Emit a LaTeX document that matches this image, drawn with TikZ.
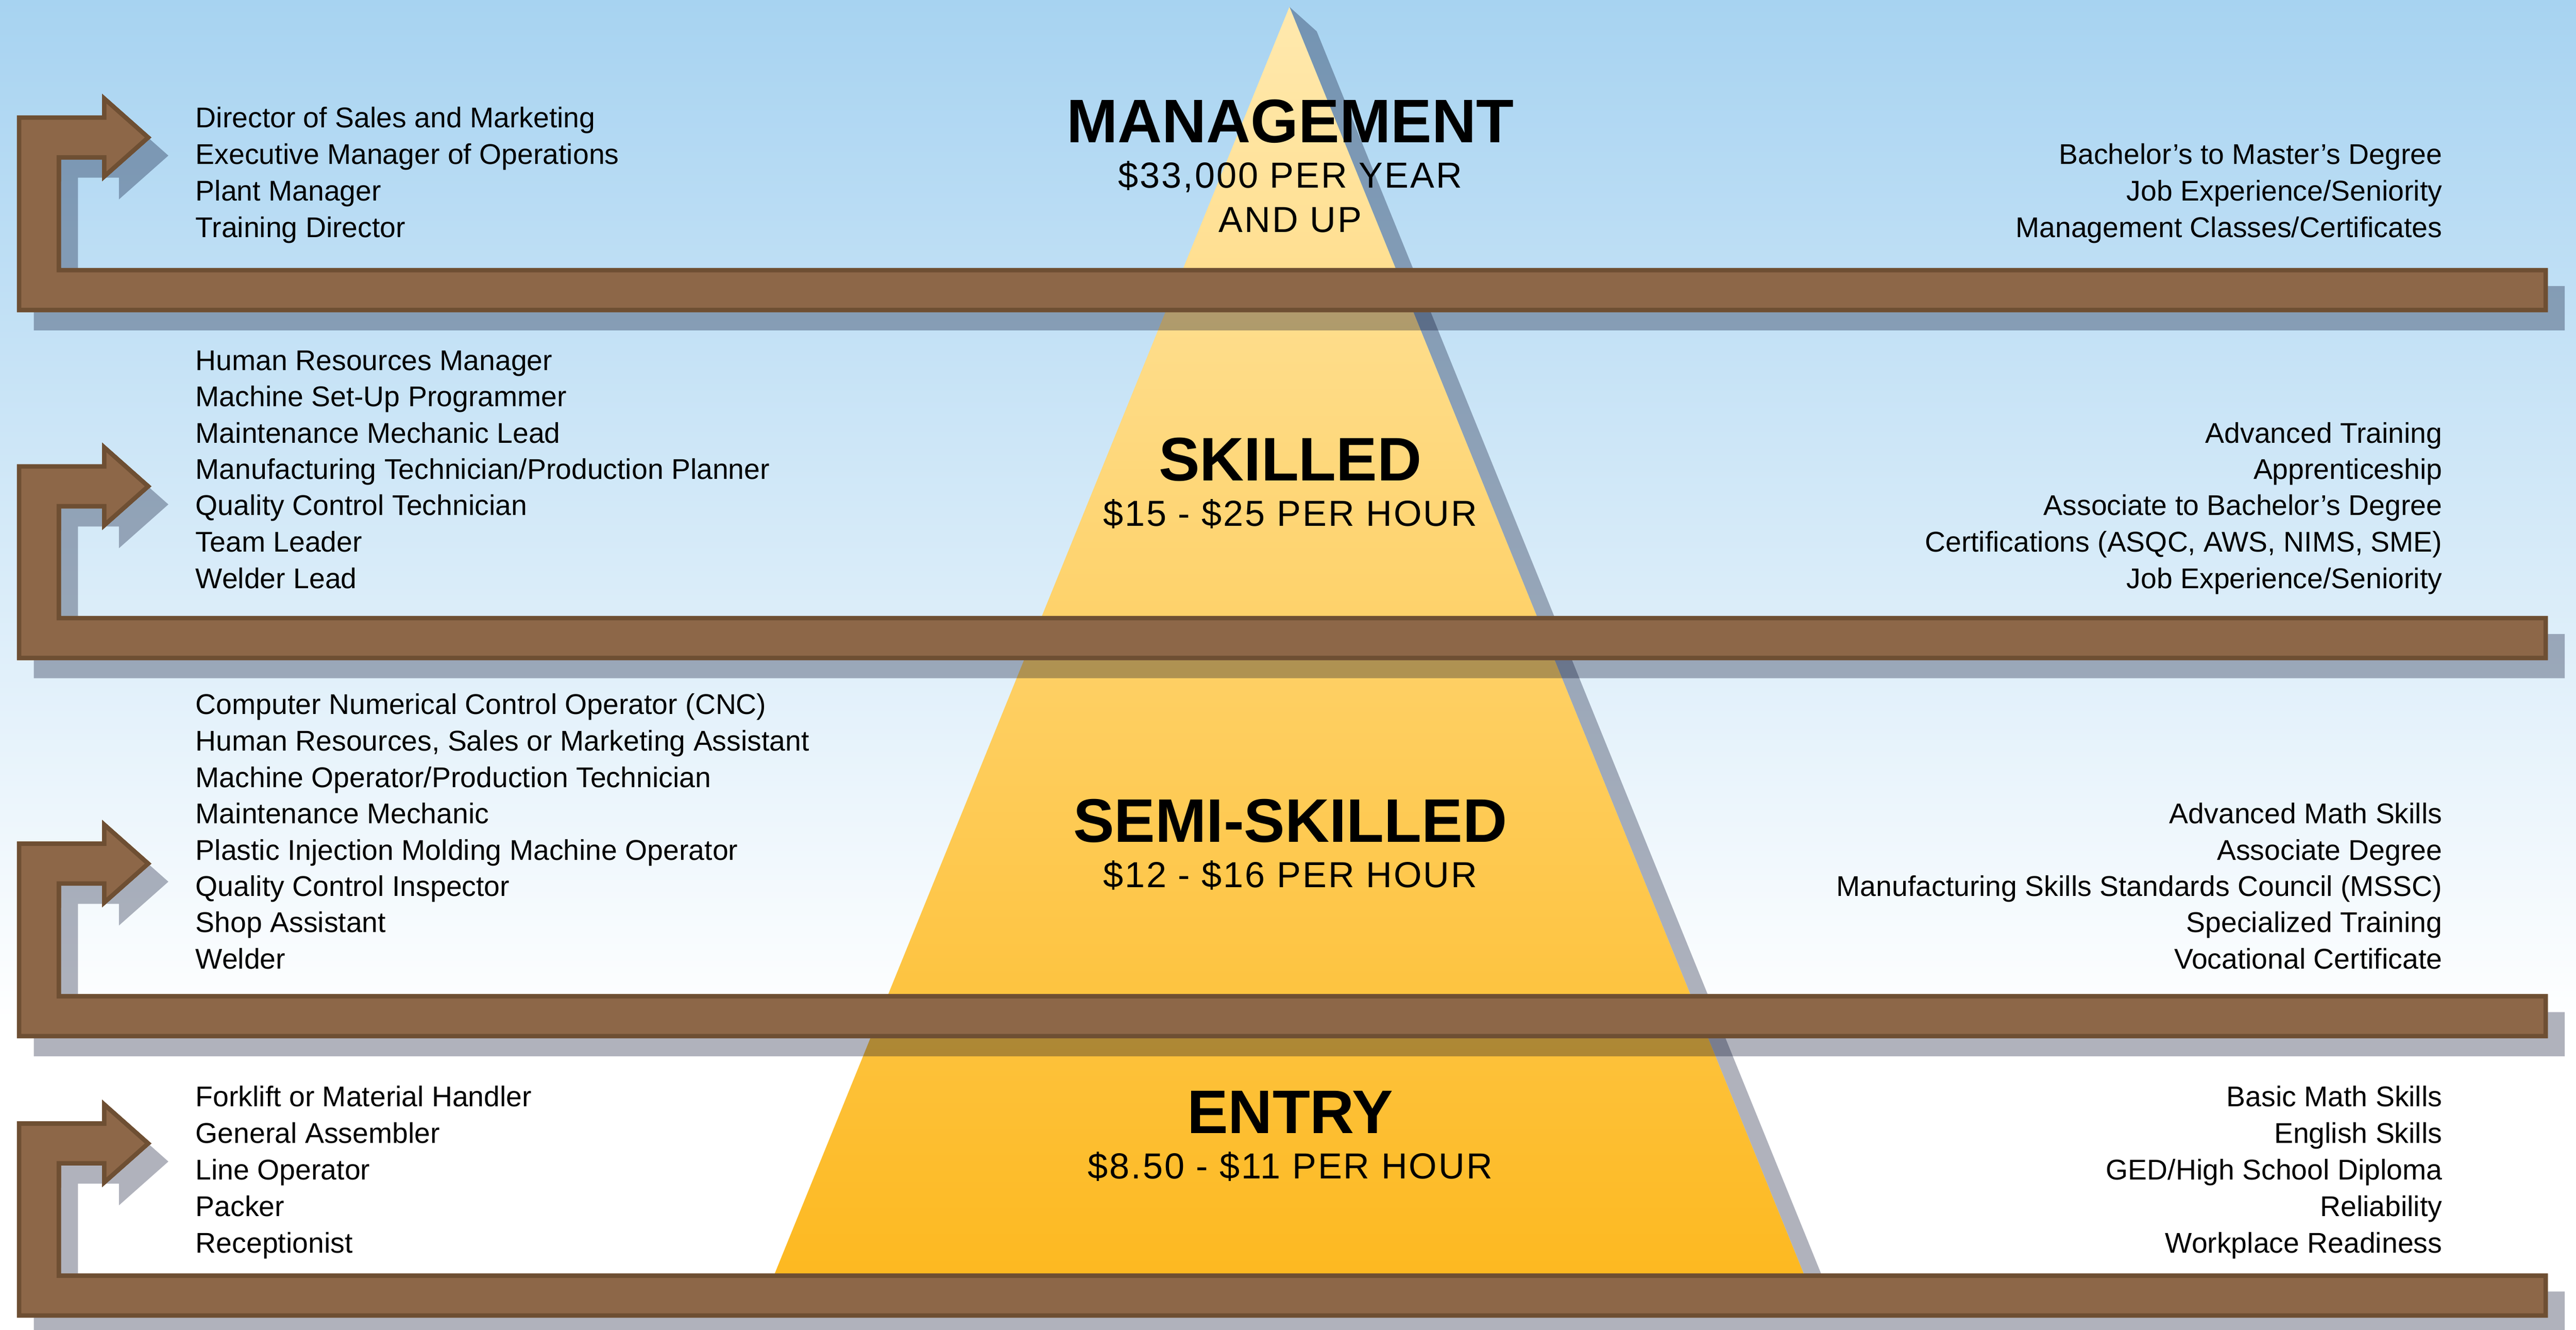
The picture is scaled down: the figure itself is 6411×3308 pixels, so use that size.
\documentclass[tikz,border=0pt]{standalone}
\usepackage{fontspec}
\setmainfont{Liberation Sans}
\newfontfamily\wagefont[LetterSpace=4.3]{Liberation Sans}
\definecolor{bgtop}{RGB}{167,211,241}
\definecolor{pyrtop}{RGB}{255,233,174}
\definecolor{pyrbot}{RGB}{253,185,33}
\definecolor{shadowcol}{RGB}{0,8,41}
\definecolor{arrowfillc}{RGB}{141,103,72}
\definecolor{arrowlinec}{RGB}{110,79,51}
\newcommand\arrowpath[2]{(42,{#1-55}) -- (254,{#1-55}) -- (254,{#1-109}) -- (377,#1) -- (254,{#1+109}) -- (254,{#1+55}) -- (152,{#1+55}) -- (152,#2) -- (6341,#2) -- (6341,{#2+110}) -- (42,{#2+110}) -- cycle}
\newcommand\stairarrow[3]{%
  \fill[shadowfill, shift={(42,45)}] \arrowpath{#2}{#3};
  \begin{scope}
    \clip \arrowpath{#2}{#3};
    \fill[arrowfillc] \arrowpath{#2}{#3};
    \draw[arrowlinec, line width=4.4pt] \arrowpath{#2}{#3};
  \end{scope}
  \coordinate (#1) at (377,#2);
}
\begin{document}
\begin{tikzpicture}[x=0.2pt,y=-0.2pt,
  shadowfill/.style={fill=shadowcol, fill opacity=0.31},
  item/.style={font=\fontsize{14.2}{17}\selectfont, inner sep=0pt, text=black},
  lft/.style={item, anchor=base west},
  rgt/.style={item, anchor=base east},
  tier/.style={font=\fontsize{30.6}{36}\selectfont\bfseries, inner sep=0pt, anchor=base},
  wage/.style={font=\fontsize{18}{21}\selectfont\wagefont, inner sep=0pt, anchor=base}]
\useasboundingbox (0,0) rectangle (6411,3308);
% background
\shade[top color=bgtop, bottom color=white] (0,0) rectangle (6411,2550);
\fill[white] (0,2549) rectangle (6411,3308);
% pyramid with its shadow
\coordinate (apex) at (3209,17);
\coordinate (baseL) at (1928,3168);
\coordinate (baseR) at (4489,3168);
\fill[shadowfill] (apex) -- (3277,78) -- (4557,3229) -- (baseR) -- cycle;
\shade[top color=pyrtop, bottom color=pyrbot] (apex) -- (baseR) -- (baseL) -- cycle;
% stair arrows
\stairarrow{arr1}{342}{666.6}
\stairarrow{arr2}{1209.6}{1532}
\stairarrow{arr3}{2148}{2472.5}
\stairarrow{arr4}{2844}{3167.5}
% tier titles
\node[tier] (tM) at (3211,355) {MANAGEMENT};
\node[wage] (wM1) at (3211,467) {\$33,000 PER YEAR};
\node[wage] (wM2) at (3211,578) {AND UP};
\node[tier] (tS) at (3211,1195.5) {SKILLED};
\node[wage] (wS) at (3211,1308.7) {\$15 - \$25 PER HOUR};
\node[tier] (tSS) at (3211,2094.8) {SEMI-SKILLED};
\node[wage] (wSS) at (3211,2206.7) {\$12 - \$16 PER HOUR};
\node[tier] (tE) at (3211,2818.6) {ENTRY};
\node[wage] (wE) at (3211,2932) {\$8.50 - \$11 PER HOUR};
% group 1
\node[lft] (l11) at (486,317) {Director of Sales and Marketing};
\node[lft] (l12) at (486,408) {Executive Manager of Operations};
\node[lft] (l13) at (486,499) {Plant Manager};
\node[lft] (l14) at (486,590) {Training Director};
\node[rgt] (r11) at (6079,408) {Bachelor’s to Master’s Degree};
\node[rgt] (r12) at (6079,499) {Job Experience/Seniority};
\node[rgt] (r13) at (6079,590) {Management Classes/Certificates};
% group 2
\node[lft] (l21) at (486,921) {Human Resources Manager};
\node[lft] (l22) at (486,1011) {Machine Set-Up Programmer};
\node[lft] (l23) at (486,1102) {Maintenance Mechanic Lead};
\node[lft] (l24) at (486,1192) {Manufacturing Technician/Production Planner};
\node[lft] (l25) at (486,1282) {Quality Control Technician};
\node[lft] (l26) at (486,1373) {Team Leader};
\node[lft] (l27) at (486,1463) {Welder Lead};
\node[rgt] (r21) at (6079,1102) {Advanced Training};
\node[rgt] (r22) at (6079,1192) {Apprenticeship};
\node[rgt] (r23) at (6079,1282) {Associate to Bachelor’s Degree};
\node[rgt] (r24) at (6079,1373) {Certifications (ASQC, AWS, NIMS, SME)};
\node[rgt] (r25) at (6079,1463) {Job Experience/Seniority};
% group 3
\node[lft] (l31) at (486,1777) {Computer Numerical Control Operator (CNC)};
\node[lft] (l32) at (486,1867) {Human Resources, Sales or Marketing Assistant};
\node[lft] (l33) at (486,1958) {Machine Operator/Production Technician};
\node[lft] (l34) at (486,2048) {Maintenance Mechanic};
\node[lft] (l35) at (486,2139) {Plastic Injection Molding Machine Operator};
\node[lft] (l36) at (486,2229) {Quality Control Inspector};
\node[lft] (l37) at (486,2319) {Shop Assistant};
\node[lft] (l38) at (486,2410) {Welder};
\node[rgt] (r31) at (6079,2048) {Advanced Math Skills};
\node[rgt] (r32) at (6079,2139) {Associate Degree};
\node[rgt] (r33) at (6079,2229) {Manufacturing Skills Standards Council (MSSC)};
\node[rgt] (r34) at (6079,2319) {Specialized Training};
\node[rgt] (r35) at (6079,2410) {Vocational Certificate};
% group 4
\node[lft] (l41) at (486,2752) {Forklift or Material Handler};
\node[lft] (l42) at (486,2843) {General Assembler};
\node[lft] (l43) at (486,2934) {Line Operator};
\node[lft] (l44) at (486,3025) {Packer};
\node[lft] (l45) at (486,3116) {Receptionist};
\node[rgt] (r41) at (6079,2752) {Basic Math Skills};
\node[rgt] (r42) at (6079,2843) {English Skills};
\node[rgt] (r43) at (6079,2934) {GED/High School Diploma};
\node[rgt] (r44) at (6079,3025) {Reliability};
\node[rgt] (r45) at (6079,3116) {Workplace Readiness};
\end{tikzpicture}
\end{document}
